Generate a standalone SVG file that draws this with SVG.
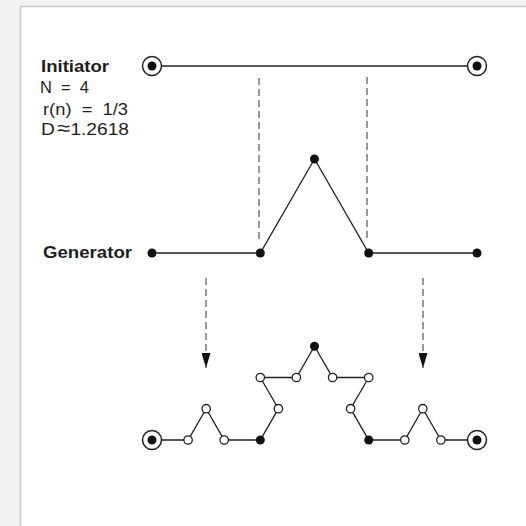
<svg xmlns="http://www.w3.org/2000/svg" width="526" height="526" viewBox="0 0 526 526">
<style>
.lbl{font-family:"Liberation Sans",Arial,sans-serif;fill:#1e1e1e}
.b{font-weight:bold;font-size:16px}
.r{font-size:16px}
.ln{stroke:#222;stroke-width:1.3;fill:none}
.dash{stroke:#444;stroke-width:1.1;stroke-dasharray:7 4;fill:none}
.dot{fill:#111}
.open{fill:#fff;stroke:#222;stroke-width:1.3}
.ring{fill:#fff;stroke:#222;stroke-width:1.5}
</style>
<defs>
<marker id="ah" markerWidth="15" markerHeight="9" refX="15" refY="4.5" orient="auto" markerUnits="userSpaceOnUse" viewBox="0 0 15 9">
<path d="M0,0 L15,4.5 L0,9 Z" fill="#111"/>
</marker>
</defs>
<rect x="0" y="0" width="526" height="526" fill="#f2f2f2"/>
<rect x="20.5" y="6.5" width="520" height="530" fill="#fff" stroke="#c8c8c8" stroke-width="1.5"/>

<g id="labels">
<text class="lbl b" x="41" y="72" textLength="68" lengthAdjust="spacingAndGlyphs">Initiator</text>
<text class="lbl r" x="40" y="93" xml:space="preserve" textLength="49" lengthAdjust="spacingAndGlyphs">N  =  4</text>
<text class="lbl r" x="43" y="115" xml:space="preserve" textLength="85" lengthAdjust="spacingAndGlyphs">r(n)  =  1/3</text>
<text class="lbl r" x="41" y="135" textLength="88" lengthAdjust="spacingAndGlyphs">D<tspan font-size="20" dx="2">≈</tspan>1.2618</text>
<text class="lbl b" x="43" y="258" textLength="89" lengthAdjust="spacingAndGlyphs">Generator</text>
</g>

<g id="connectors">
<line class="dash" x1="259" y1="78" x2="259" y2="242"/>
<line class="dash" x1="367" y1="77" x2="367" y2="242"/>
<line class="dash" x1="206" y1="278" x2="206" y2="368" marker-end="url(#ah)"/>
<line class="dash" x1="423" y1="278" x2="423" y2="368" marker-end="url(#ah)"/>
</g>

<g id="initiator">
<line class="ln" x1="152" y1="66" x2="477" y2="66"/>
<circle class="ring" cx="152" cy="66" r="9.5"/>
<circle class="dot" cx="152" cy="66" r="4.5"/>
<circle class="ring" cx="477" cy="66" r="9.5"/>
<circle class="dot" cx="477" cy="66" r="4.5"/>
</g>

<g id="generator">
<polyline class="ln" points="152,253 260.3,253 314.5,159 368.7,253 477,253"/>
<circle class="dot" cx="152" cy="253" r="4.5"/>
<circle class="dot" cx="260.3" cy="253" r="4.5"/>
<circle class="dot" cx="314.5" cy="159" r="4.5"/>
<circle class="dot" cx="368.7" cy="253" r="4.5"/>
<circle class="dot" cx="477" cy="253" r="4.5"/>
</g>

<g id="koch">
<polyline class="ln" points="152,440 188.1,440 206.2,408.7 224.2,440 260.3,440 278.4,408.7 260.3,377.5 296.4,377.5 314.5,346.2 332.6,377.5 368.7,377.5 350.6,408.7 368.7,440 404.8,440 422.8,408.7 440.9,440 477,440"/>
<circle class="open" cx="188.1" cy="440" r="4.2"/>
<circle class="open" cx="206.2" cy="408.7" r="4.2"/>
<circle class="open" cx="224.2" cy="440" r="4.2"/>
<circle class="dot" cx="260.3" cy="440" r="4.5"/>
<circle class="open" cx="278.4" cy="408.7" r="4.2"/>
<circle class="open" cx="260.3" cy="377.5" r="4.2"/>
<circle class="open" cx="296.4" cy="377.5" r="4.2"/>
<circle class="dot" cx="314.5" cy="346.2" r="4.5"/>
<circle class="open" cx="332.6" cy="377.5" r="4.2"/>
<circle class="open" cx="368.7" cy="377.5" r="4.2"/>
<circle class="open" cx="350.6" cy="408.7" r="4.2"/>
<circle class="dot" cx="368.7" cy="440" r="4.5"/>
<circle class="open" cx="404.8" cy="440" r="4.2"/>
<circle class="open" cx="422.8" cy="408.7" r="4.2"/>
<circle class="open" cx="440.9" cy="440" r="4.2"/>
<circle class="ring" cx="152" cy="440" r="9.5"/>
<circle class="dot" cx="152" cy="440" r="4.5"/>
<circle class="ring" cx="477" cy="440" r="9.5"/>
<circle class="dot" cx="477" cy="440" r="4.5"/>
</g>
</svg>
